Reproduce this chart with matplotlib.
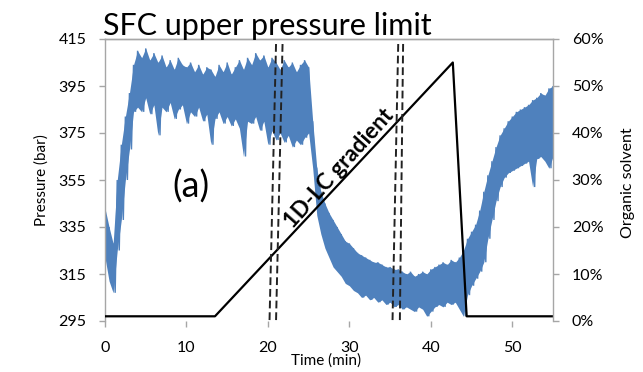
import numpy as np
import matplotlib
matplotlib.use('Agg')
import matplotlib.pyplot as plt

plt.rcParams['font.family'] = ['Lato', 'DejaVu Sans']

# ---------------- data ----------------
sample_step_min = 0.5
pressure_hi = [343, 335, 328, 355, 370, 382, 392, 404, 410, 407,
               411, 406, 409, 405, 408, 403, 406, 402, 407, 404,
               403, 405, 401, 404, 400, 403, 402, 399, 404, 401,
               405, 400, 403, 406, 402, 407, 404, 409, 406, 408,
               403, 407, 405, 402, 406, 403, 405, 401, 404, 406,
               403, 380, 360, 350, 345, 341, 338, 335, 332, 329,
               328, 326, 324, 323, 322, 321, 320, 320, 319, 318,
               318, 317, 317, 316, 315, 316, 314, 315, 316, 315,
               317, 318, 319, 320, 319, 321, 320, 322, 325, 330,
               333, 336, 342, 350, 357, 363, 369, 374, 377, 380,
               382, 384, 385, 386, 387, 389, 390, 392, 391, 394, 395]
pressure_lo = [322, 312, 307, 325, 338, 355, 368, 384, 386, 384,
               390, 383, 387, 374, 386, 384, 388, 381, 385, 387,
               379, 384, 382, 386, 380, 383, 370, 381, 384, 379,
               382, 378, 381, 377, 365, 380, 379, 382, 376, 380,
               370, 376, 372, 375, 371, 374, 369, 372, 370, 373,
               375, 360, 340, 332, 326, 322, 318, 316, 314, 311,
               310, 308, 307, 305, 306, 304, 305, 303, 304, 302,
               303, 301, 302, 300, 301, 300, 299, 301, 300, 297,
               299, 301, 302, 301, 303, 302, 303, 300, 297, 306,
               310, 313, 316, 320, 330, 338, 346, 352, 356, 358,
               359, 360, 361, 362, 363, 352, 364, 365, 363, 360, 365]

gradient_time = [0, 13.5, 42.7, 44.4, 55]
gradient_pct = [1, 1, 55, 1, 1]

dash_time_bottom = [20.2, 21.0, 35.3, 36.2]
dash_time_top = [21.0, 21.8, 36.0, 36.6]
dash_pressure_span = [295.4, 413.3]

x_ticks = [0, 10, 20, 30, 40, 50]
left_ticks = [295, 315, 335, 355, 375, 395, 415]
right_ticks = [0, 10, 20, 30, 40, 50, 60]
right_tick_labels = ['0%', '10%', '20%', '30%', '40%', '50%', '60%']

# ---------------- figure ----------------
W, H = 643, 372
fig = plt.figure(figsize=(W / 100, H / 100), dpi=100)
ax = fig.add_axes([105 / W, 1 - 321 / H, (553 - 105) / W, (321 - 39) / H])
ax2 = ax.twinx()

gray = '#A6A6A6'
blue = '#4F81BD'

t = np.arange(len(pressure_hi)) * sample_step_min
xs = np.column_stack([t, t + sample_step_min / 2]).ravel()
ys = np.column_stack([pressure_hi, pressure_lo]).ravel()
ax.fill_between(t, pressure_lo, pressure_hi, color=blue, lw=0)
ax.plot(xs, ys, color=blue, lw=1.0, solid_joinstyle='miter')

ax.set_xlim(0, 55)
ax.set_ylim(295, 415)
ax2.set_ylim(0, 60)

ax2.plot(gradient_time, gradient_pct, color='black', lw=1.6)

for tb, tt in zip(dash_time_bottom, dash_time_top):
    ax2.plot([tb, tt], dash_pressure_span, transform=ax.transData,
             color='#222222', lw=1.4, ls=(0, (4.0, 2.0)))

ax.set_xticks(x_ticks)
ax.set_yticks(left_ticks)
ax2.set_yticks(right_ticks)
ax2.set_yticklabels(right_tick_labels)

for a in (ax, ax2):
    for s in a.spines.values():
        s.set_color(gray)
        s.set_linewidth(1.0)
    a.spines['bottom'].set_visible(False)
ax.spines['right'].set_visible(False)
ax2.spines['left'].set_visible(False)

ax.tick_params(axis='both', direction='out', length=4.5, color=gray,
               width=1.0, pad=9, labelsize=11.5, labelcolor='black')
ax.tick_params(axis='x', pad=10)
ax2.tick_params(axis='y', direction='out', length=4.5, color=gray,
                width=1.0, pad=9, labelsize=11.5, labelcolor='black')

ax.set_ylabel('Pressure (bar)', fontsize=11, labelpad=7)
fig.text(326 / W, 1 - 361 / H, 'Time (min)', fontsize=11,
         ha='center', va='center')
fig.text(628 / W, 1 - 183 / H, 'Organic solvent', fontsize=11.5,
         rotation=90, ha='center', va='center')

fig.text(103 / W, 1 - 35 / H, 'SFC upper pressure limit', fontsize=22,
         ha='left', va='baseline')
ax.text(10.5, 352, '(a)', fontsize=26, ha='center', va='center')
ax2.text(28.7, 360, '1D-LC gradient', transform=ax.transData,
         fontsize=16, fontweight='bold', rotation=48,
         ha='center', va='center', rotation_mode='anchor')

fig.savefig('out.png', dpi=100)
